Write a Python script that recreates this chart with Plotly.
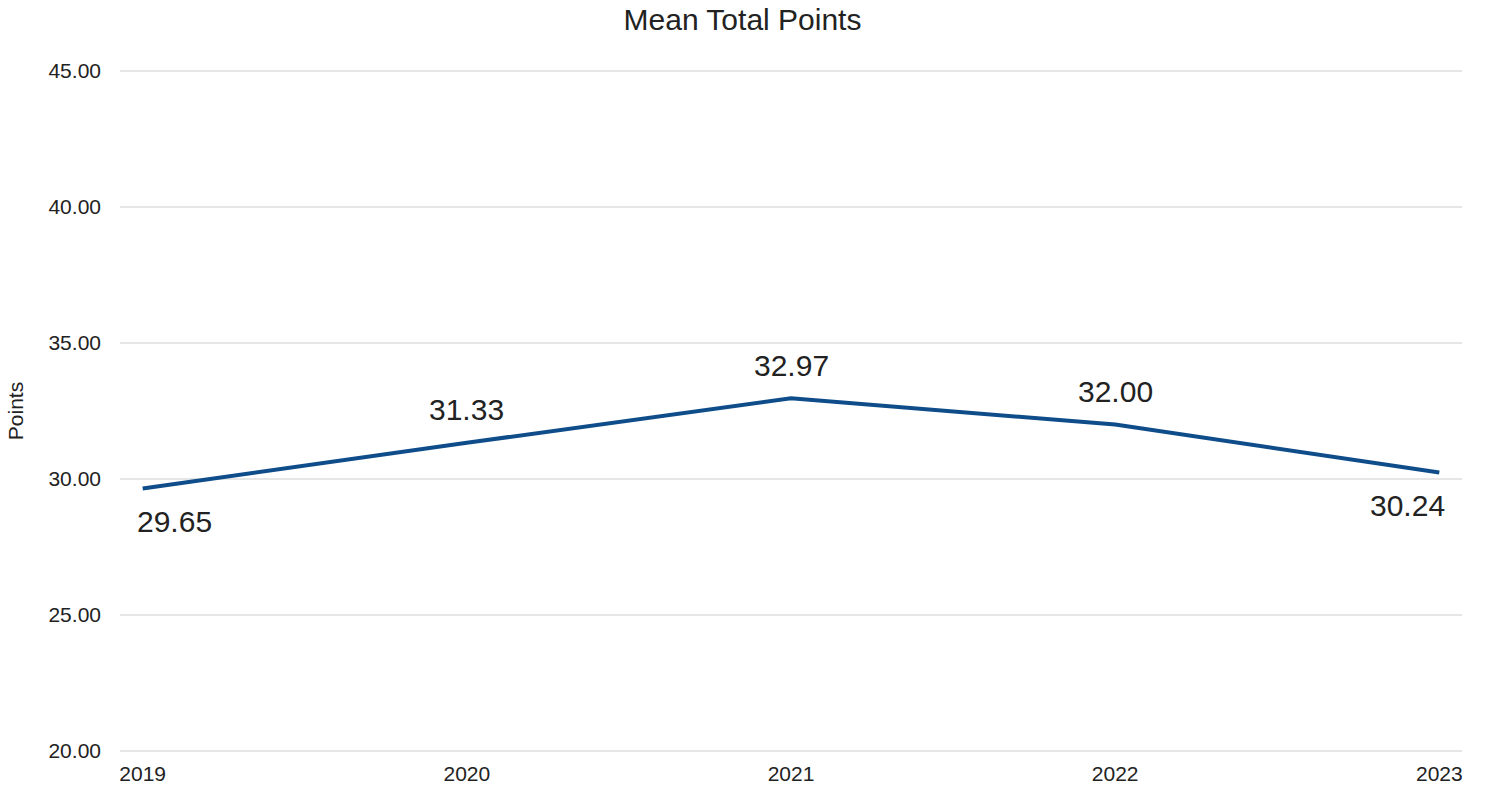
import plotly.graph_objects as go

years = [2019, 2020, 2021, 2022, 2023]
mean_points = [29.65, 31.33, 32.97, 32.00, 30.24]
y_ticks = [20, 25, 30, 35, 40, 45]

FONT = "Liberation Sans, Arial, sans-serif"
TEXT = "#222222"
LINE = "#0f4c8a"

fig = go.Figure()
fig.add_trace(go.Scatter(
    x=years, y=mean_points, mode="lines",
    line=dict(color=LINE, width=4),
    hoverinfo="x+y", showlegend=False,
))

n = len(years)
for i, (xv, yv) in enumerate(zip(years, mean_points)):
    if i == 0:
        xs, ys = 32, -33
    elif i == n - 1:
        xs, ys = -32, -33
    else:
        xs, ys = 0, 33
    fig.add_annotation(
        x=xv, y=yv, text=f"{yv:.2f}", showarrow=False,
        xshift=xs, yshift=ys,
        font=dict(family=FONT, size=30, color=TEXT),
    )

fig.update_layout(
    width=1485, height=791,
    margin=dict(l=120, r=23, t=70, b=39, autoexpand=False),
    paper_bgcolor="white", plot_bgcolor="white",
    font=dict(family=FONT, color=TEXT, size=20),
    title=dict(text="Mean Total Points", x=0.5, xanchor="center",
               y=0.975, yanchor="middle",
               font=dict(family=FONT, size=30, color=TEXT)),
    xaxis=dict(
        range=[2018.93, 2023.07], tickvals=years,
        ticktext=[str(y) for y in years],
        showgrid=False, zeroline=False, showline=False,
        tickfont=dict(size=21, color=TEXT),
        ticks="", ticklabelstandoff=7,
    ),
    yaxis=dict(
        range=[19.96, 45.04], tickvals=y_ticks, tickformat=".2f",
        showgrid=True, gridcolor="#e6e6e6", gridwidth=2,
        zeroline=False, showline=False,
        tickfont=dict(size=21, color=TEXT),
        ticks="", ticklabelstandoff=18,
        title=dict(text="Points", font=dict(size=21, color=TEXT), standoff=19),
    ),
)

fig.write_html("out.html", config={"displayModeBar": False},
               post_script="document.body.style.margin='0';")
